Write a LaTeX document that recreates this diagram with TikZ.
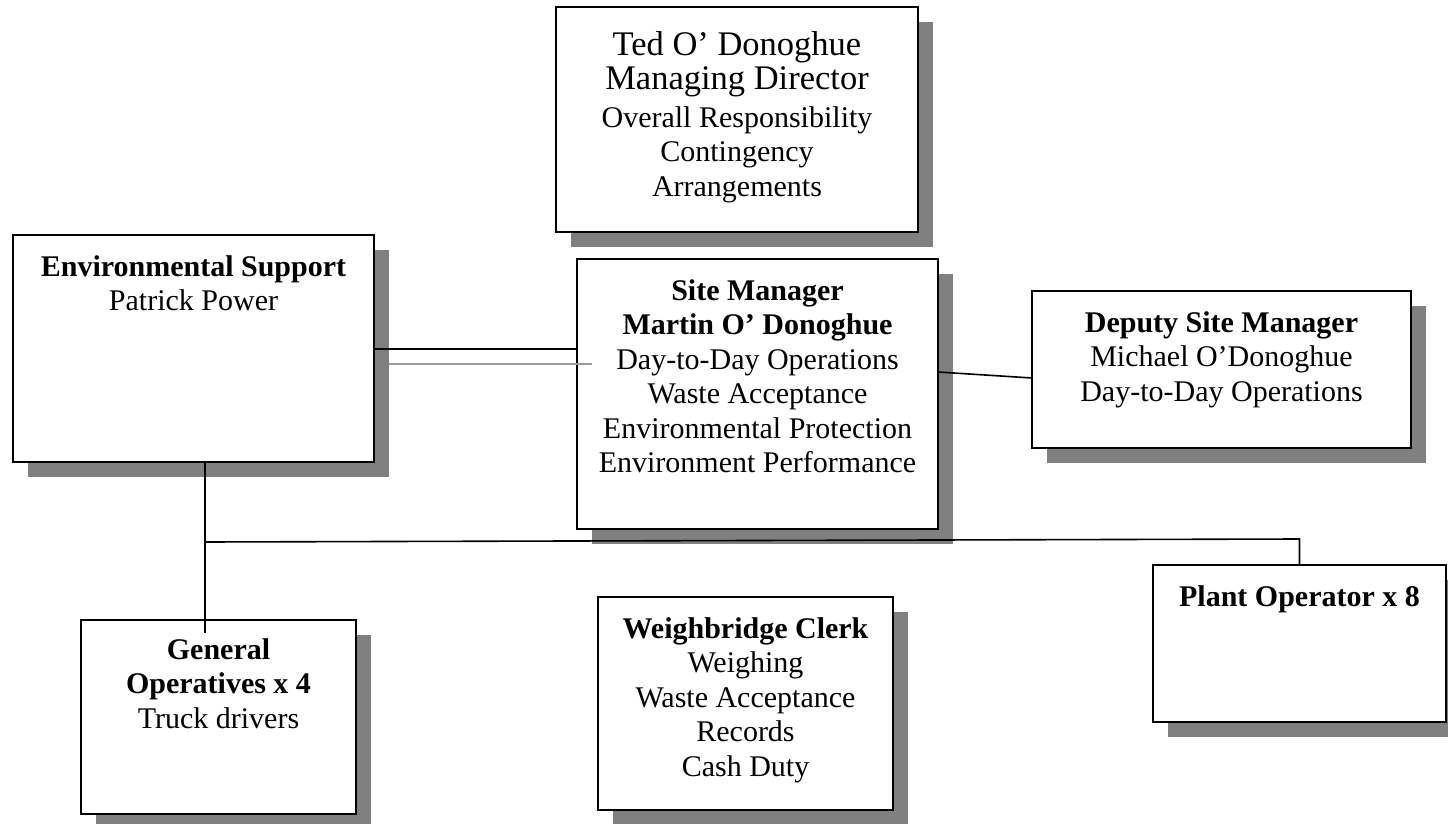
\documentclass[tikz,border=0pt]{standalone}
\usepackage{fontspec}
\setmainfont{Liberation Serif}
\usetikzlibrary{shadows}
\definecolor{shadowgray}{HTML}{808080}
\definecolor{lightline}{HTML}{9A9A9A}
\begin{document}
\begin{tikzpicture}[x=1pt,y=-1pt,
  box/.style={draw=black, fill=white, line width=1.8pt, inner sep=0pt, outer sep=0pt,
    general shadow={fill=shadowgray, shadow xshift=15pt, shadow yshift=-15pt}},
  txt/.style={anchor=north, align=center, inner sep=0pt, font=\fontsize{30}{34.5}\selectfont},
  conn/.style={draw=black, line width=1.6pt},
  shline/.style={draw=lightline, line width=1.6pt}]
\clip (0,0) rectangle (1448,824);
% boxes
\node[box, minimum width=362pt, minimum height=225pt] (ted) at (737,119.5) {};
\node[box, minimum width=361pt, minimum height=227pt] (env) at (193.5,348.5) {};
\node[box, minimum width=361pt, minimum height=270pt] (site) at (757.5,394) {};
\node[box, minimum width=379pt, minimum height=157pt] (dep) at (1221.5,369.5) {};
\node[box, minimum width=275pt, minimum height=194pt] (gen) at (218.5,717) {};
\node[box, minimum width=295pt, minimum height=213pt] (weigh) at (745.5,703.5) {};
\node[box, minimum width=293pt, minimum height=157pt] (plant) at (1299.5,643.5) {};
% texts
\node[txt, font=\fontsize{34.5}{34.5}\selectfont] (tedT) at ([yshift=-24pt]ted.north)
  {Ted O’ Donoghue\\Managing Director\\[3pt]\fontsize{30}{34.5}\selectfont Overall Responsibility\\\fontsize{30}{34.5}\selectfont Contingency\\\fontsize{30}{34.5}\selectfont Arrangements};
\node[txt] (envT) at ([yshift=-20pt]env.north) {\textbf{Environmental Support}\\Patrick Power};
\node[txt] (siteT) at ([yshift=-20pt]site.north) {\textbf{Site Manager}\\\textbf{Martin O’ Donoghue}\\Day-to-Day Operations\\Waste Acceptance\\Environmental Protection\\Environment Performance};
\node[txt] (depT) at ([yshift=-20pt]dep.north) {\textbf{Deputy Site Manager}\\Michael O’Donoghue\\Day-to-Day Operations};
\node[txt] (genT) at ([yshift=-18pt]gen.north) {\textbf{General}\\\textbf{Operatives x 4}\\Truck drivers};
\node[txt] (weighT) at ([yshift=-20pt]weigh.north) {\textbf{Weighbridge Clerk}\\Weighing\\Waste Acceptance\\Records\\Cash Duty};
\node[txt] (plantT) at ([yshift=-20pt]plant.north) {\textbf{Plant Operator x 8}};
% connector coordinates
\coordinate (es) at (0,349);
\coordinate (esL) at (env.east |- es);
\coordinate (esR) at (site.west |- es);
\coordinate (sdL) at (0,372);
\coordinate (sdR) at (0,378);
\coordinate (vbot) at (205,633);
\coordinate (hstart) at (205,542);
\coordinate (hcorner) at (1299.5,539);
% connectors
\draw[conn] (esL) -- (esR);
\draw[shline] ([shift={(15pt,-15pt)}]esL) -- ([shift={(15pt,-15pt)}]esR);
\draw[conn] (site.east |- sdL) -- (dep.west |- sdR);
\draw[conn] (vbot |- env.south) -- (vbot);
\draw[conn] (hstart) -- (hcorner) -- (plant.north);
\end{tikzpicture}
\end{document}
